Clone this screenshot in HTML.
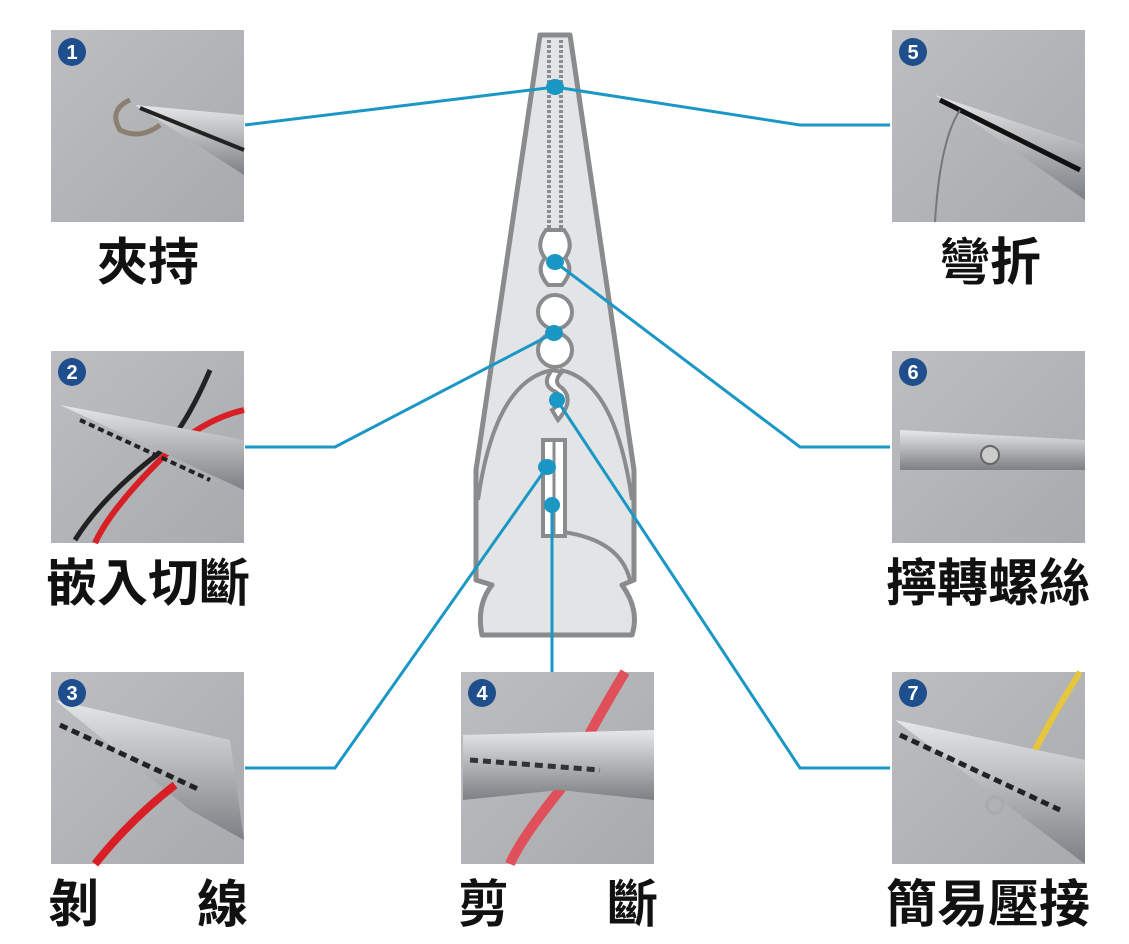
<!DOCTYPE html>
<html><head><meta charset="utf-8"><style>
html,body{margin:0;padding:0;background:#fff;}
svg{display:block}
text{font-family:"Liberation Sans","Noto Sans CJK TC",sans-serif;font-weight:700;}
</style></head><body>
<svg width="1129" height="944" viewBox="0 0 1129 944" xmlns="http://www.w3.org/2000/svg">
<defs>
<linearGradient id="g" x1="0" y1="0" x2="1" y2="1"><stop offset="0" stop-color="#bdbec1"/><stop offset="1" stop-color="#a8aaad"/></linearGradient>
<linearGradient id="m" x1="0" y1="0" x2="0" y2="1"><stop offset="0" stop-color="#e6e7e8"/><stop offset="1" stop-color="#7d8084"/></linearGradient>
</defs>
<g fill="#e3e4e5" stroke="#8a8b8d" stroke-width="5" stroke-linejoin="round">
<path d="M540,35 L570,35 L634,470 L634,580 L622,585 Q640,610 632,635 L482,635 Q476,605 492,585 L476,580 L476,470 Z"/>
</g>
<g fill="none" stroke="#8a8b8d" stroke-width="4">
<path d="M478,500 Q495,380 553,370"/>
<path d="M632,500 Q615,380 560,370"/>
<path d="M563,532 Q620,540 630,580"/>
<path d="M549,40 L549,230 M561,40 L561,230" stroke-dasharray="3 2"/>
</g>
<g fill="#fff" stroke="#8a8b8d" stroke-width="4">
<path d="M546,230 Q535,245 545,258 Q535,270 548,285 L562,285 Q575,270 565,258 Q575,245 564,230 Z"/>
<circle cx="555" cy="312" r="17"/>
<circle cx="555" cy="350" r="17"/>
<path d="M552,370 Q540,385 556,392 Q566,400 552,410 L558,420 Q575,400 562,388 Q552,382 562,372 Z"/>
<rect x="543" y="440" width="22" height="96"/>
</g>
<line x1="554" y1="440" x2="554" y2="536" stroke="#8a8b8d" stroke-width="3"/>
<g fill="none" stroke="#1b97c6" stroke-width="3">
<polyline points="245,125 555,87 800,125 890,125"/>
<polyline points="555,262 800,447 890,447"/>
<polyline points="554,333 335,447 245,447"/>
<polyline points="557,400 800,768 890,768"/>
<polyline points="547,467 335,768 245,768"/>
<polyline points="552,505 552,672"/>
</g>
<g fill="#1b97c6">
<ellipse cx="555" cy="87" rx="9" ry="8"/>
<ellipse cx="555" cy="262" rx="9" ry="8"/>
<ellipse cx="554" cy="333" rx="9" ry="8"/>
<ellipse cx="557" cy="400" rx="8" ry="8"/>
<ellipse cx="547" cy="467" rx="9" ry="8"/>
<ellipse cx="552" cy="505" rx="8" ry="8"/>
</g>
<g>
<rect x="51" y="30" width="193" height="192" fill="url(#g)"/>
<rect x="51" y="351" width="193" height="192" fill="url(#g)"/>
<rect x="51" y="672" width="193" height="192" fill="url(#g)"/>
<rect x="461" y="672" width="193" height="192" fill="url(#g)"/>
<rect x="892" y="30" width="193" height="192" fill="url(#g)"/>
<rect x="892" y="351" width="193" height="192" fill="url(#g)"/>
<rect x="892" y="672" width="193" height="192" fill="url(#g)"/>
</g>
<path d="M135,105 L244,115 L244,175 Z" fill="url(#m)"/>
<path d="M140,108 L244,150" stroke="#222" stroke-width="4"/>
<path d="M130,100 Q108,110 120,130 Q140,140 160,125" fill="none" stroke="#8b8070" stroke-width="5"/>
<path d="M210,370 Q180,440 150,460 Q100,500 75,540" fill="none" stroke="#222" stroke-width="5"/>
<path d="M244,410 Q200,420 160,460 Q110,510 95,543" fill="none" stroke="#d81f25" stroke-width="6"/>
<path d="M60,405 L244,440 L244,490 Z" fill="url(#m)"/>
<path d="M80,420 L210,480" stroke="#222" stroke-width="4" stroke-dasharray="6 4"/>
<path d="M55,700 L230,740 L244,840 L190,810 Z" fill="url(#m)"/>
<path d="M60,725 L200,790" stroke="#222" stroke-width="5" stroke-dasharray="8 5"/>
<path d="M175,785 Q130,820 95,864" stroke="#d81f25" stroke-width="8" fill="none"/>
<path d="M625,672 Q590,730 560,790 Q520,840 510,864" stroke="#e0505a" stroke-width="10" fill="none"/>
<path d="M463,735 L654,730 L654,800 L560,790 L463,800 Z" fill="url(#m)"/>
<path d="M470,760 L600,770" stroke="#333" stroke-width="5" stroke-dasharray="8 5"/>
<path d="M935,95 L1085,145 L1085,200 Z" fill="url(#m)"/>
<path d="M940,100 L1080,170" stroke="#111" stroke-width="5"/>
<path d="M960,110 Q940,140 935,222" stroke="#777" stroke-width="2" fill="none"/>
<path d="M900,430 L1085,440 L1085,470 L900,470 Z" fill="url(#m)"/>
<circle cx="990" cy="455" r="9" fill="#ccc" stroke="#666" stroke-width="2"/>
<path d="M1080,672 Q1050,720 1030,760" stroke="#e8c63a" stroke-width="6" fill="none"/>
<path d="M895,720 L1085,760 L1085,864 L1040,830 Z" fill="url(#m)"/>
<path d="M900,735 L1060,810" stroke="#222" stroke-width="5" stroke-dasharray="8 5"/>
<circle cx="995" cy="805" r="8" fill="none" stroke="#aaa" stroke-width="3"/>
<g fill="#1f4e8c">
<circle cx="72" cy="52" r="14"/><circle cx="72" cy="372" r="14"/><circle cx="72" cy="693" r="14"/>
<circle cx="482" cy="693" r="14"/><circle cx="913" cy="52" r="14"/><circle cx="913" cy="372" r="14"/><circle cx="913" cy="693" r="14"/>
</g>
<g fill="#fff" font-size="20" text-anchor="middle">
<text x="72" y="59">1</text><text x="72" y="379">2</text><text x="72" y="700">3</text>
<text x="482" y="700">4</text><text x="913" y="59">5</text><text x="913" y="379">6</text><text x="913" y="700">7</text>
</g>
<g fill="#111" font-size="51" text-anchor="middle">
<text x="148" y="280">夾持</text>
<text x="148" y="601">嵌入切斷</text>
<text x="148" y="922" textLength="200" lengthAdjust="spacing">剝　線</text>
<text x="558" y="922" textLength="200" lengthAdjust="spacing">剪　斷</text>
<text x="990" y="280">彎折</text>
<text x="988" y="601">擰轉螺絲</text>
<text x="988" y="922">簡易壓接</text>
</g>
</svg>
</body></html>
